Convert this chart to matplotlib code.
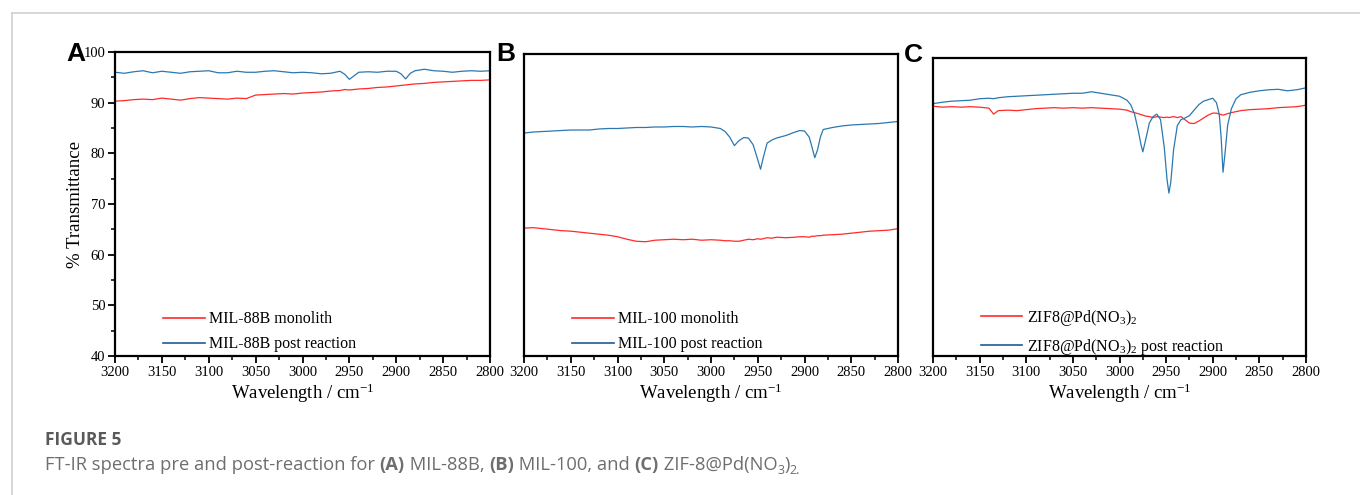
import matplotlib
matplotlib.use('Agg')
import matplotlib.pyplot as plt
from matplotlib.lines import Line2D
from matplotlib.ticker import MultipleLocator

plt.rcParams['font.family'] = ['Liberation Serif', 'DejaVu Serif']
plt.rcParams['mathtext.fontset'] = 'custom'
plt.rcParams['mathtext.rm'] = 'Liberation Serif'
plt.rcParams['mathtext.it'] = 'Liberation Serif:italic'
plt.rcParams['mathtext.bf'] = 'Liberation Serif:bold'

RED = '#ff2a2a'
BLUE = '#2b78b0'
BLUE_LEG = '#1f5c96'

# ---- data ----
# panel A: MIL-88B
a_wn = [3200, 3190, 3180, 3170, 3160, 3150, 3140, 3130, 3120, 3110, 3100, 3090, 3080, 3070, 3060,
        3050, 3040, 3030, 3020, 3010, 3000,
        2990, 2980, 2970, 2960, 2955, 2950, 2945, 2940, 2930, 2920, 2910, 2900,
        2895, 2890, 2885, 2880, 2870, 2860, 2850, 2840, 2830, 2820, 2810, 2800]
a_monolith = [90.3, 90.4, 90.6, 90.7, 90.6, 90.9, 90.7, 90.5, 90.8, 91.0, 90.9, 90.8, 90.7, 90.9, 90.8,
              91.5, 91.6, 91.7, 91.8, 91.7, 91.9,
              92.0, 92.1, 92.3, 92.4, 92.6, 92.5, 92.6, 92.7, 92.8, 93.0, 93.1, 93.3,
              93.4, 93.5, 93.6, 93.7, 93.8, 94.0, 94.1, 94.2, 94.3, 94.4, 94.4, 94.5]
a_post = [96.0, 95.8, 96.1, 96.3, 95.9, 96.2, 96.0, 95.8, 96.1, 96.2, 96.3, 95.9, 95.9, 96.2, 96.0,
          96.0, 96.2, 96.3, 96.1, 95.9, 96.0,
          95.9, 95.7, 95.8, 96.2, 95.6, 94.6, 95.3, 96.0, 96.1, 96.0, 96.2, 96.2,
          95.7, 94.7, 95.8, 96.3, 96.6, 96.3, 96.2, 96.0, 96.2, 96.3, 96.2, 96.3]

# panel B: MIL-100
b_wn = [3200, 3190, 3180, 3170, 3160, 3150, 3140, 3130, 3120, 3110, 3100, 3090, 3080, 3070, 3060,
        3050, 3040, 3030, 3020, 3010, 3000,
        2990, 2985, 2980, 2975, 2970, 2965, 2960, 2955, 2950, 2947, 2944, 2940, 2935, 2930, 2920,
        2910, 2905, 2900, 2895, 2892, 2889, 2886, 2883, 2880, 2870, 2860, 2850, 2840, 2830, 2820,
        2810, 2800]
b_monolith = [65.4, 65.5, 65.3, 65.1, 64.9, 64.8, 64.6, 64.4, 64.2, 64.0, 63.7, 63.2, 62.8, 62.7, 63.0,
              63.1, 63.2, 63.1, 63.2, 63.0, 63.1,
              63.0, 62.9, 62.9, 62.8, 62.8, 63.0, 63.2, 63.1, 63.3, 63.2, 63.3, 63.5, 63.4, 63.6, 63.5,
              63.6, 63.7, 63.7, 63.6, 63.8, 63.8, 63.9, 63.9, 64.0, 64.1, 64.2, 64.4, 64.6, 64.8, 64.9,
              65.0, 65.3]
b_post = [84.3, 84.5, 84.6, 84.7, 84.8, 84.9, 84.9, 84.9, 85.1, 85.2, 85.2, 85.3, 85.4, 85.4, 85.5,
          85.5, 85.6, 85.6, 85.5, 85.6, 85.5,
          85.2, 84.6, 83.5, 81.8, 82.8, 83.4, 83.3, 82.0, 79.0, 77.1, 79.5, 82.3, 82.9, 83.3, 83.8,
          84.5, 84.8, 84.7, 83.5, 81.5, 79.4, 81.0, 83.5, 85.0, 85.4, 85.7, 85.9, 86.0, 86.1, 86.2,
          86.4, 86.6]

# panel C: ZIF8@Pd(NO3)2
c_wn = [3200, 3190, 3180, 3170, 3160, 3150, 3140, 3135, 3130, 3120, 3110, 3100, 3090, 3080, 3070,
        3060, 3050, 3040, 3030, 3020, 3010, 3000,
        2992, 2988, 2984, 2980, 2977, 2975, 2972, 2968, 2964, 2960, 2956, 2952, 2949, 2947, 2945,
        2942, 2938, 2934, 2930, 2925, 2920, 2915, 2910, 2905, 2900, 2896, 2893, 2891, 2889, 2887,
        2884, 2880, 2875, 2870, 2860, 2850, 2840, 2830, 2820, 2810, 2800]
c_monolith = [90.3, 90.1, 90.2, 90.1, 90.2, 90.1, 89.9, 88.7, 89.4, 89.5, 89.4, 89.6, 89.8, 89.9, 90.0,
              89.9, 90.0, 89.9, 90.0, 89.9, 89.8, 89.7,
              89.5, 89.2, 89.0, 88.8, 88.6, 88.5, 88.3, 88.2, 88.0, 88.2, 88.1, 88.0, 88.1, 88.0, 88.1,
              88.2, 88.0, 88.2, 87.6, 86.9, 86.8, 87.3, 87.9, 88.5, 88.9, 88.9, 88.7, 88.6, 88.5, 88.6,
              88.8, 89.0, 89.2, 89.4, 89.6, 89.7, 89.8, 90.0, 90.1, 90.2, 90.5]
c_post = [90.8, 91.1, 91.3, 91.4, 91.5, 91.8, 91.9, 91.8, 92.0, 92.2, 92.3, 92.4, 92.5, 92.6, 92.7,
          92.8, 92.9, 92.9, 93.2, 92.9, 92.6, 92.3,
          91.5, 90.6, 88.8, 85.5, 82.6, 81.1, 83.5, 86.9, 88.2, 88.7, 87.6, 82.0, 75.5, 72.8, 75.0,
          81.5, 86.4, 87.6, 87.9, 88.4, 89.5, 90.6, 91.3, 91.6, 91.9, 91.0, 88.6, 84.0, 77.0, 80.5,
          86.5, 89.8, 91.8, 92.6, 93.1, 93.4, 93.6, 93.7, 93.4, 93.6, 94.0]

letters = ['A', 'B', 'C']
leg_red = ['MIL-88B monolith', 'MIL-100 monolith', r'ZIF8@Pd(NO$_\mathregular{3}$)$_\mathregular{2}$']
leg_blue = ['MIL-88B post reaction', 'MIL-100 post reaction',
            r'ZIF8@Pd(NO$_\mathregular{3}$)$_\mathregular{2}$ post reaction']

W, H = 1360, 495
fig = plt.figure(figsize=(13.6, 4.95), dpi=100)

# axes boxes in pixels: left, top, right, bottom
boxes = [(115, 52, 490, 356), (524, 54, 898, 356), (933, 58, 1306, 356)]
letter_xy = [(66, 54), (496, 54), (904, 55)]
leg_y = [-0.035, -0.035, -0.05]
wns = [a_wn, b_wn, c_wn]
reds = [a_monolith, b_monolith, c_monolith]
blues = [a_post, b_post, c_post]

for i in range(3):
    l, t, r, b = boxes[i]
    ax = fig.add_axes([l / W, 1 - b / H, (r - l) / W, (b - t) / H])
    ax.plot(wns[i], reds[i], color=RED, lw=0.9)
    ax.plot(wns[i], blues[i], color=BLUE, lw=0.9)
    ax.set_xlim(3200, 2800)
    ax.set_ylim(40, 100)
    ax.xaxis.set_major_locator(MultipleLocator(50))
    ax.xaxis.set_minor_locator(MultipleLocator(25))
    ax.tick_params(axis='x', which='major', direction='out', length=5, width=1.3, labelsize=10.5, pad=2)
    ax.tick_params(axis='x', which='minor', direction='out', length=3, width=1.1)
    for s in ax.spines.values():
        s.set_linewidth(1.6)
    if i == 0:
        ax.yaxis.set_major_locator(MultipleLocator(10))
        ax.yaxis.set_minor_locator(MultipleLocator(5))
        ax.tick_params(axis='y', which='major', direction='out', length=5, width=1.3, labelsize=10.5, pad=2)
        ax.tick_params(axis='y', which='minor', direction='out', length=3, width=1.1)
        ax.set_ylabel('% Transmittance', fontsize=13.5)
        ax.yaxis.set_label_coords(-0.082, 0.5)
    else:
        ax.set_yticks([])
    ax.set_xlabel(r'Wavelength / cm$^\mathregular{-1}$', fontsize=13.5, labelpad=2)

    handles = [Line2D([], [], color=RED, lw=1.2), Line2D([], [], color=BLUE_LEG, lw=1.2)]
    ax.legend(handles, [leg_red[i], leg_blue[i]], loc='lower left', bbox_to_anchor=(0.09, leg_y[i]),
              frameon=False, fontsize=11.5, handlelength=2.6, handletextpad=0.3, labelspacing=0.55)

    fig.text(letter_xy[i][0] / W, 1 - letter_xy[i][1] / H, letters[i], fontsize=19, fontweight='bold',
             family=['Liberation Sans', 'DejaVu Sans'], ha='left', va='center')

# page frame lines
fig.add_artist(Line2D([12 / W, 1], [1 - 13 / H, 1 - 13 / H], color='#d4d4d4', lw=1.3))
fig.add_artist(Line2D([12 / W, 12 / W], [0, 1 - 13 / H], color='#d4d4d4', lw=1.3))

# caption
cap_font = ['Open Sans', 'DejaVu Sans']
fig.text(45 / W, 1 - 440 / H, 'FIGURE 5', fontsize=12.5, fontweight='bold', color='#5a5a5a',
         family=cap_font, va='center', ha='left')

fig.canvas.draw()
renderer = fig.canvas.get_renderer()
pieces = [
    ('FT-IR spectra pre and post-reaction for ', 'normal', 0),
    ('(A)', 'bold', 0),
    (' MIL-88B, ', 'normal', 0),
    ('(B)', 'bold', 0),
    (' MIL-100, and ', 'normal', 0),
    ('(C)', 'bold', 0),
    (' ZIF-8@Pd(NO', 'normal', 0),
    ('3', 'normal', 1),
    (')', 'normal', 0),
    ('2.', 'normal', 1),
]
x = 45
for txt, wt, sub in pieces:
    if sub:
        tt = fig.text(x / W, 1 - 470 / H, txt, fontsize=9, fontweight=wt, color='#6e6e6e',
                      family=cap_font, va='center', ha='left')
    else:
        tt = fig.text(x / W, 1 - 465 / H, txt, fontsize=13.2, fontweight=wt, color='#6e6e6e',
                      family=cap_font, va='center', ha='left')
    x = tt.get_window_extent(renderer).x1

fig.savefig('out.png', dpi=100)
